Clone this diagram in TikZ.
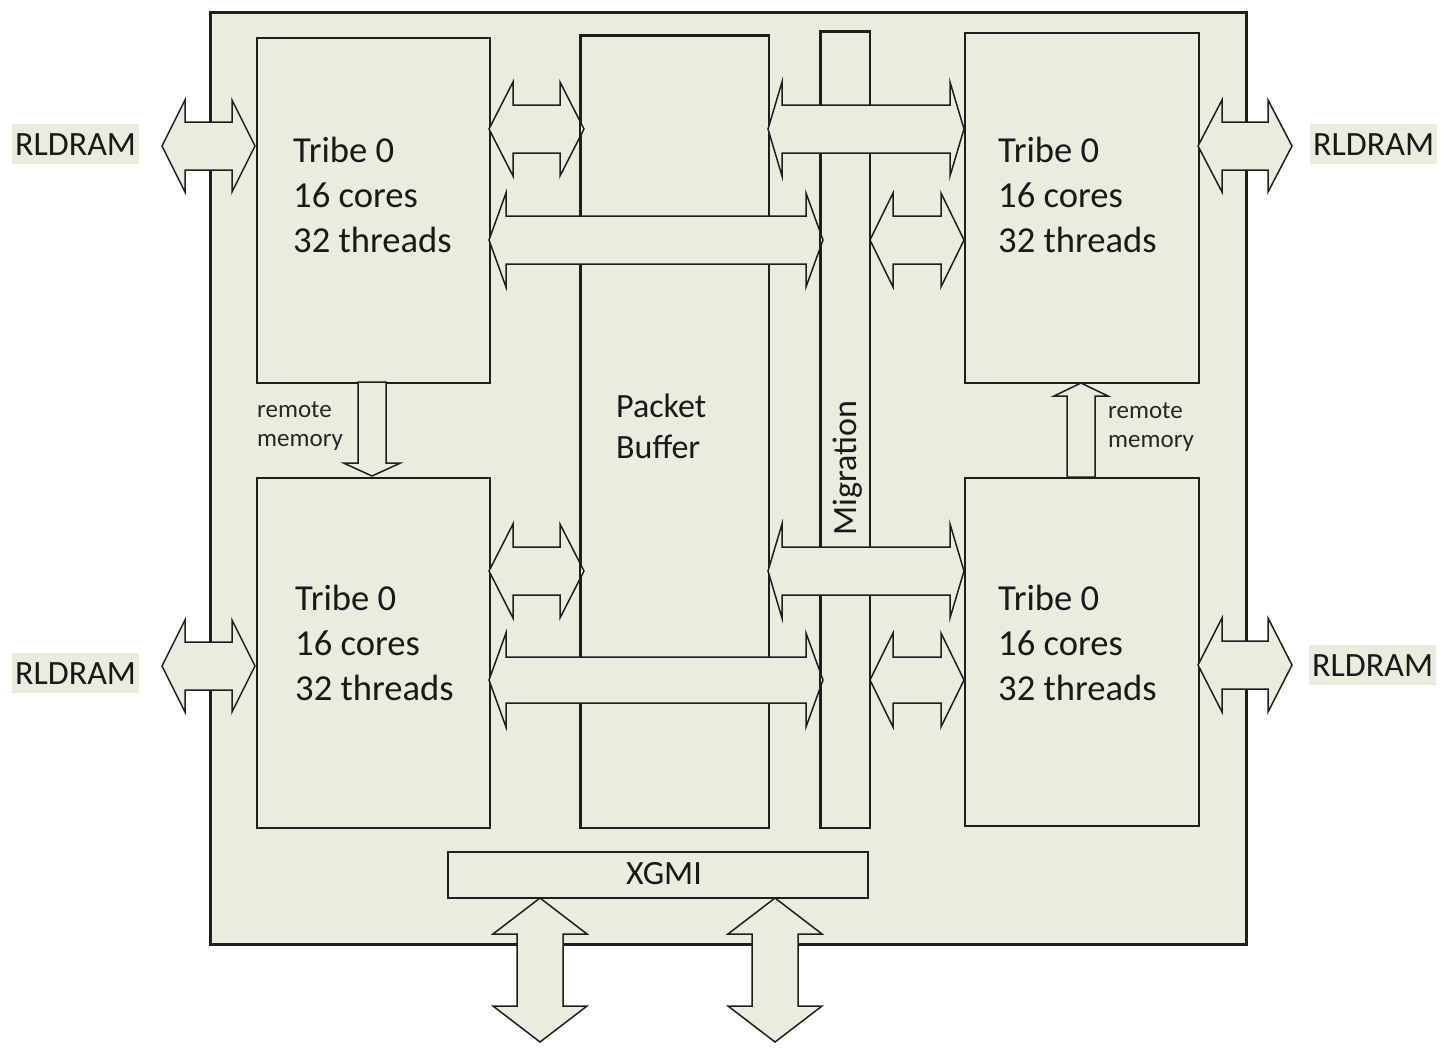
\documentclass[tikz,border=0pt]{standalone}
\usepackage{fontspec}
\setmainfont{Carlito}
\definecolor{bg}{RGB}{234,237,222}
\definecolor{ln}{RGB}{30,30,30}
\newcommand\hdarrow[6]{% x1 x2 yc shafthalf headhalf headlen
  \filldraw[blk] (#1,#3) -- ({#1+#6},{#3-#5}) -- ({#1+#6},{#3-#4}) -- ({#2-#6},{#3-#4}) -- ({#2-#6},{#3-#5}) -- (#2,#3) -- ({#2-#6},{#3+#5}) -- ({#2-#6},{#3+#4}) -- ({#1+#6},{#3+#4}) -- ({#1+#6},{#3+#5}) -- cycle;}
\newcommand\vdarrow[6]{% y1 y2 xc shafthalf headhalf headlen
  \filldraw[blk] (#3,#1) -- ({#3-#5},{#1+#6}) -- ({#3-#4},{#1+#6}) -- ({#3-#4},{#2-#6}) -- ({#3-#5},{#2-#6}) -- (#3,#2) -- ({#3+#5},{#2-#6}) -- ({#3+#4},{#2-#6}) -- ({#3+#4},{#1+#6}) -- ({#3+#5},{#1+#6}) -- cycle;}
\newcommand\vsarrow[6]{% xc ytail ybase ytip shafthalf headhalf
  \filldraw[blk] ({#1-#5},#2) -- ({#1-#5},#3) -- ({#1-#6},#3) -- (#1,#4) -- ({#1+#6},#3) -- ({#1+#5},#3) -- ({#1+#5},#2) -- cycle;}
\begin{document}
\begin{tikzpicture}[x=1pt,y=-1pt,
  blk/.style={draw=ln, line width=1.5pt, fill=bg, line join=miter},
  box/.style={draw=ln, line width=1.5pt, fill=bg, rectangle, inner sep=0pt, anchor=north west},
  edge/.style={draw=ln, line width=1.5pt},
  tribetxt/.style={font=\fontsize{36.6}{40}\selectfont, inner sep=0pt, anchor=base west, text=black!90},
  midtxt/.style={font=\fontsize{34}{40}\selectfont, inner sep=0pt, text=black!90},
  smalltxt/.style={font=\fontsize{25}{30}\selectfont, inner sep=0pt, anchor=base west, text=black!85},
  ramlabel/.style={font=\fontsize{34}{40}\selectfont, fill=bg, inner xsep=3pt, inner ysep=9pt, text depth=0pt, anchor=base west, text=black!90}]
\useasboundingbox (0,0) rectangle (1453,1061);
% main chip
\node[box, line width=3pt, minimum width=1036pt, minimum height=932pt] (chip) at (209,11) {};
% inner blocks
\node[box, minimum width=233pt, minimum height=345pt] (tl) at (256,37) {};
\node[box, minimum width=233pt, minimum height=350pt] (bl) at (256,477) {};
\node[box, minimum width=234pt, minimum height=350pt] (tr) at (964,32) {};
\node[box, minimum width=234pt, minimum height=348pt] (br) at (964,477) {};
\node[box, minimum width=188pt, minimum height=792pt] (pb) at (580,35) {};
\node[box, minimum width=49pt, minimum height=796pt] (mig) at (820,31) {};
\node[box, minimum width=420pt, minimum height=46pt] (xgmi) at (447,851) {};
% RLDRAM arrows
\hdarrow{162}{255}{146}{24}{46}{23}
\hdarrow{162}{255}{666}{24}{46}{23}
\hdarrow{1198}{1292}{146}{24}{46}{24}
\hdarrow{1198}{1292}{665}{24}{47}{24}
% short arrows
\hdarrow{489}{584}{129}{24}{47}{24}
\hdarrow{489}{584}{571}{24}{47}{24}
\hdarrow{870}{964}{240}{24}{47}{23}
\hdarrow{870}{964}{680}{23}{47}{23}
\draw[edge] (pb.north west) rectangle (pb.south east);
% long arrows to migration
\hdarrow{489}{823}{240}{24}{47}{17}
\hdarrow{489}{823}{680}{23}{47}{17}
\draw[edge] (mig.north west) rectangle (mig.south east);
% packet buffer to right tribes
\hdarrow{768}{964}{129}{24}{47}{14}
\hdarrow{768}{964}{571}{24}{47}{14}
% remote memory
\vsarrow{372}{382}{463}{476}{14}{28.5}
\vsarrow{1081}{477}{396}{383}{14}{27}
% XGMI arrows
\vdarrow{898}{1042}{540}{23}{47}{36}
\vdarrow{898}{1042}{775}{23}{47}{36}
% texts
\node[tribetxt] (tl1) at (293,162) {Tribe 0};
\node[tribetxt] (tl2) at (293,207) {16 cores};
\node[tribetxt] (tl3) at (293,252) {32 threads};
\node[tribetxt] (bl1) at (295,610) {Tribe 0};
\node[tribetxt] (bl2) at (295,655) {16 cores};
\node[tribetxt] (bl3) at (295,700) {32 threads};
\node[tribetxt] (tr1) at (998,162) {Tribe 0};
\node[tribetxt] (tr2) at (998,207) {16 cores};
\node[tribetxt] (tr3) at (998,252) {32 threads};
\node[tribetxt] (br1) at (998,610) {Tribe 0};
\node[tribetxt] (br2) at (998,655) {16 cores};
\node[tribetxt] (br3) at (998,700) {32 threads};
\node[midtxt, anchor=base west] (pb1) at (616,417) {Packet};
\node[midtxt, anchor=base west] (pb2) at (616,458) {Buffer};
\node[midtxt, anchor=base, rotate=90] (migt) at (856,468) {Migration};
\node[midtxt, anchor=base] (xgmit) at (664,884) {XGMI};
\node[smalltxt] (rml1) at (257,417) {remote};
\node[smalltxt] (rml2) at (257,446) {memory};
\node[smalltxt] (rmr1) at (1108,418) {remote};
\node[smalltxt] (rmr2) at (1108,447) {memory};
\node[ramlabel] (ram1) at (12,155) {RLDRAM};
\node[ramlabel] (ram2) at (12,684) {RLDRAM};
\node[ramlabel] (ram3) at (1310,155) {RLDRAM};
\node[ramlabel] (ram4) at (1309,676) {RLDRAM};
\end{tikzpicture}
\end{document}
